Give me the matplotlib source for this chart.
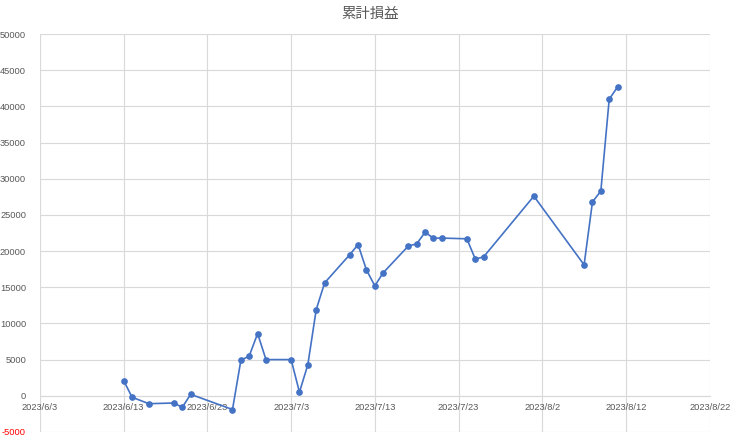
import matplotlib
matplotlib.use("Agg")
import matplotlib.pyplot as plt
import pandas as pd

# cumulative P/L
dates = [
    "2023-06-13", "2023-06-14", "2023-06-16", "2023-06-19", "2023-06-20",
    "2023-06-21", "2023-06-26", "2023-06-27", "2023-06-28", "2023-06-29",
    "2023-06-30", "2023-07-03", "2023-07-04", "2023-07-05", "2023-07-06",
    "2023-07-07", "2023-07-10", "2023-07-11", "2023-07-12", "2023-07-13",
    "2023-07-14", "2023-07-17", "2023-07-18", "2023-07-19", "2023-07-20",
    "2023-07-21", "2023-07-24", "2023-07-25", "2023-07-26", "2023-08-01",
    "2023-08-07", "2023-08-08", "2023-08-09", "2023-08-10", "2023-08-11",
]
values = [
    2100, -200, -1100, -1000, -1600,
    200, -1900, 4900, 5500, 8600,
    5000, 5000, 500, 4300, 11900,
    15600, 19500, 20900, 17400, 15200,
    17000, 20700, 21000, 22600, 21800,
    21800, 21700, 18900, 19200, 27600,
    18100, 26800, 28300, 41000, 42700,
]
title = "累計損益"
tick_dates = pd.date_range("2023-06-03", "2023-08-22", freq="10D")
y_ticks = list(range(-5000, 50001, 5000))

x = pd.to_datetime(dates)

plt.rcParams["font.family"] = ["Liberation Sans", "DejaVu Sans"]
fig = plt.figure(figsize=(7.4, 4.43), dpi=100)
ax = fig.add_axes([0.054, 0.025, 0.905, 0.898])

ax.plot(x, values, color="#4472C4", linewidth=1.2, marker="o",
        markersize=3.8, zorder=3)

ax.set_xlim(tick_dates[0], tick_dates[-1])
ax.set_ylim(-5000, 50000)
ax.set_xticks(tick_dates)
ax.set_xticklabels([f"{d.year}/{d.month}/{d.day}" for d in tick_dates])
ax.set_yticks(y_ticks)
ax.set_yticklabels([str(v) for v in y_ticks])

ax.grid(True, color="#D9D9D9", linewidth=0.8)
ax.set_axisbelow(True)
for s in ["top", "right", "left"]:
    ax.spines[s].set_visible(False)
ax.spines["bottom"].set_position(("data", 0))
ax.spines["bottom"].set_color("#D9D9D9")
ax.spines["bottom"].set_linewidth(0.8)
ax.tick_params(axis="both", length=0, labelsize=6.7, colors="#595959")
ax.tick_params(axis="x", pad=5)
ax.tick_params(axis="y", pad=10)

# negative values are shown in red, like the spreadsheet number format
for lbl, v in zip(ax.get_yticklabels(), y_ticks):
    if v < 0:
        lbl.set_color("#FF0000")

fig.text(0.5, 0.968, title, ha="center", va="center", fontsize=10.4,
         color="#595959", family=["Noto Sans CJK JP", "DejaVu Sans"])

fig.savefig("out.png", dpi=100)
